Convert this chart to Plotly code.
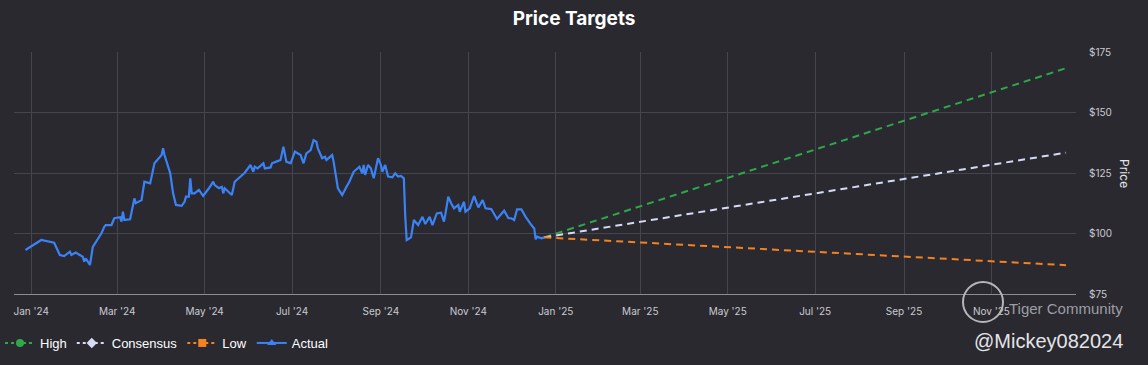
import plotly.graph_objects as go

# ---------------- data ----------------
actual_dates = [
    "2023-12-28", "2024-01-08", "2024-01-17", "2024-01-21", "2024-01-24", "2024-01-28", "2024-01-29",
    "2024-02-01", "2024-02-06", "2024-02-07", "2024-02-08", "2024-02-11", "2024-02-13", "2024-02-19",
    "2024-02-21", "2024-02-22", "2024-02-26", "2024-02-28", "2024-03-03", "2024-03-04", "2024-03-05",
    "2024-03-06", "2024-03-10", "2024-03-13", "2024-03-14", "2024-03-18", "2024-03-20", "2024-03-24",
    "2024-03-27", "2024-04-01", "2024-04-02", "2024-04-03", "2024-04-07", "2024-04-09", "2024-04-11",
    "2024-04-15", "2024-04-17", "2024-04-18", "2024-04-20", "2024-04-21", "2024-04-22", "2024-04-24",
    "2024-04-27", "2024-04-30", "2024-05-04", "2024-05-07", "2024-05-08", "2024-05-11", "2024-05-13",
    "2024-05-14", "2024-05-15", "2024-05-20", "2024-05-22", "2024-05-26", "2024-05-29", "2024-06-02",
    "2024-06-04", "2024-06-05", "2024-06-07", "2024-06-11", "2024-06-12", "2024-06-16", "2024-06-17",
    "2024-06-20", "2024-06-23", "2024-06-25", "2024-06-27", "2024-06-30", "2024-07-03", "2024-07-07",
    "2024-07-09", "2024-07-11", "2024-07-14", "2024-07-16", "2024-07-18", "2024-07-19", "2024-07-22",
    "2024-07-24", "2024-07-25", "2024-07-29", "2024-07-30", "2024-08-02", "2024-08-05", "2024-08-08",
    "2024-08-10", "2024-08-13", "2024-08-17", "2024-08-19", "2024-08-20", "2024-08-21", "2024-08-23",
    "2024-08-25", "2024-08-27", "2024-08-30", "2024-09-01", "2024-09-02", "2024-09-04", "2024-09-06",
    "2024-09-09", "2024-09-11", "2024-09-13", "2024-09-15", "2024-09-17", "2024-09-18", "2024-09-19",
    "2024-09-22", "2024-09-24", "2024-09-27", "2024-09-30", "2024-10-02", "2024-10-05", "2024-10-07",
    "2024-10-10", "2024-10-13", "2024-10-15", "2024-10-16", "2024-10-18", "2024-10-20", "2024-10-22",
    "2024-10-25", "2024-10-26", "2024-10-29", "2024-10-30", "2024-11-02", "2024-11-05", "2024-11-08",
    "2024-11-11", "2024-11-13", "2024-11-17", "2024-11-21", "2024-11-26", "2024-11-29", "2024-12-01",
    "2024-12-03", "2024-12-05", "2024-12-08", "2024-12-11", "2024-12-15", "2024-12-17", "2024-12-18",
    "2024-12-19", "2024-12-22", "2024-12-24",
]
actual_prices = [
    93.2, 97.3, 96.2, 91.1, 90.7, 92.5, 91.1,
    92.1, 90.4, 88.4, 89.7, 87.0, 94.5, 100.1,
    102.8, 103.5, 103.5, 106.3, 106.7, 104.9, 109.0,
    105.6, 105.9, 114.5, 112.5, 113.8, 121.4, 120.7,
    129.0, 132.4, 135.2, 132.4, 124.9, 116.6, 111.8,
    111.4, 113.1, 115.2, 115.2, 122.8, 116.6, 116.6,
    118.0, 115.5, 118.7, 121.4, 120.0, 118.7, 119.3,
    116.6, 118.7, 115.9, 121.4, 123.5, 125.1, 128.3,
    125.5, 127.6, 126.9, 129.0, 126.9, 127.3, 129.0,
    129.7, 130.4, 135.9, 129.7, 129.0, 133.8, 132.4,
    129.0, 133.1, 134.5, 138.6, 137.9, 135.2, 131.1,
    131.7, 130.4, 132.4, 129.7, 118.7, 115.9, 119.3,
    121.4, 125.5, 127.6, 124.9, 128.3, 124.2, 128.3,
    126.9, 122.8, 131.1, 128.3, 125.5, 128.3, 123.5,
    123.2, 124.9, 123.5, 123.8, 122.8, 106.9, 97.3,
    98.4, 105.6, 103.5, 106.9, 103.9, 106.9, 103.5,
    108.3, 108.6, 104.9, 108.0, 115.2, 112.5, 110.4,
    111.8, 109.0, 113.1, 109.0, 110.4, 115.5, 110.8,
    113.8, 110.4, 110.1, 106.0, 109.4, 106.3, 106.3,
    105.6, 110.0, 110.0, 106.9, 103.5, 102.1, 97.6,
    98.7, 98.0, 98.4,
]

forecast_dates = ["2024-12-24", "2025-12-23"]
high_target = [98.4, 168.3]
consensus_target = [98.4, 133.4]
low_target = [98.4, 86.9]

series_names = ["High", "Consensus", "Low", "Actual"]
y_ticks = [75, 100, 125, 150, 175]
y_tick_labels = ["$75", "$100", "$125", "$150", "$175"]

# ---------------- styles ----------------
BG = "#29292f"
GRID = "#45454d"
TXT = "#c9c9d1"
C_HIGH = "#2ea84a"
C_CONS = "#d5dbf5"
C_LOW = "#f5821f"
C_ACT = "#3b82f6"
DASH = "7px,5px"

# plot-area geometry in pixels (for decorations)
PL, PR, PT, PB = 14, 1076, 52, 294
def px_x(p):
    return (p - PL) / (PR - PL)
def px_y(p):
    return (PB - p) / (PB - PT)

fig = go.Figure()

forecasts = [
    (series_names[0], high_target, C_HIGH, "circle"),
    (series_names[1], consensus_target, C_CONS, "diamond"),
    (series_names[2], low_target, C_LOW, "square"),
]
for name, vals, col, sym in forecasts:
    fig.add_trace(go.Scatter(
        x=forecast_dates, y=vals, mode="lines", name=name, legendgroup=name,
        showlegend=False, line=dict(color=col, width=2, dash=DASH), hoverinfo="skip"))

fig.add_trace(go.Scatter(
    x=actual_dates, y=actual_prices, mode="lines", name=series_names[3],
    legendgroup=series_names[3], showlegend=False,
    line=dict(color=C_ACT, width=2.2)))

# legend entries
for name, vals, col, sym in forecasts + [(series_names[3], None, C_ACT, "triangle-up")]:
    fig.add_trace(go.Scatter(
        x=[None], y=[None], mode="lines+markers", name=name, legendgroup=name,
        line=dict(color=col, width=2, dash="dot" if name != "Actual" else "solid"),
        marker=dict(color=col, symbol=sym, size=8)))

fig.update_layout(
    width=1148, height=365,
    paper_bgcolor=BG, plot_bgcolor=BG,
    margin=dict(l=PL, r=1148 - PR, t=PT, b=365 - PB),
    title=dict(text="<b>Price Targets</b>", x=0.5, xanchor="center", y=1 - 18 / 365, yanchor="middle",
               yref="container",
               font=dict(family="Inter, Lato, sans-serif", size=19, color="#ffffff")),
    showlegend=True,
    legend=dict(orientation="h", x=0.0, xanchor="left", xref="container",
                y=1 - 343 / 365, yanchor="middle", yref="container",
                font=dict(family="Liberation Sans, Arial, sans-serif", size=13, color="#ffffff"),
                itemwidth=30, bgcolor="rgba(0,0,0,0)", traceorder="normal"),
    xaxis=dict(
        type="date", range=["2023-12-20", "2025-12-30"],
        tick0="2024-01-01", dtick="M2", tickformat="%b '%y",
        showgrid=True, gridcolor=GRID, gridwidth=1,
        showline=True, linecolor="#8c8c94", linewidth=1,
        zeroline=False, ticks="", ticklabelstandoff=8,
        tickfont=dict(family="Inter, Lato, sans-serif", size=10, color=TXT),
    ),
    yaxis=dict(
        side="right", range=[75, 175], tickvals=y_ticks, ticktext=y_tick_labels,
        showgrid=True, gridcolor=GRID, gridwidth=1, zeroline=False,
        showline=False, ticks="", ticklabelstandoff=12,
        tickfont=dict(family="Inter, Lato, sans-serif", size=10, color=TXT),
    ),
    annotations=[
        dict(text="Price", textangle=90, xref="paper", yref="paper", x=px_x(1125), y=0.5,
             xanchor="center", yanchor="middle", showarrow=False,
             font=dict(family="Inter, Lato, sans-serif", size=12, color="#e6e6ea")),
        dict(text="Tiger Community", xref="paper", yref="paper",
             x=px_x(1125), y=px_y(308), xanchor="right", yanchor="middle", showarrow=False,
             font=dict(family="Liberation Sans, Arial, sans-serif", size=15, color="#9d9da4")),
        dict(text="@Mickey082024", xref="paper", yref="paper",
             x=px_x(1125), y=px_y(341), xanchor="right", yanchor="middle", showarrow=False,
             font=dict(family="Liberation Sans, Arial, sans-serif", size=20, color="#e4e4e8")),
    ],
    shapes=[
        dict(type="circle", xref="paper", yref="paper", layer="above",
             x0=px_x(963), x1=px_x(1003), y0=px_y(322), y1=px_y(282),
             line=dict(color="#b5b5bb", width=2)),
    ],
)

fig.write_html(
    "out.html",
    config={"displayModeBar": False},
    post_script="document.body.style.margin='0px';document.body.style.overflow='hidden';",
)
